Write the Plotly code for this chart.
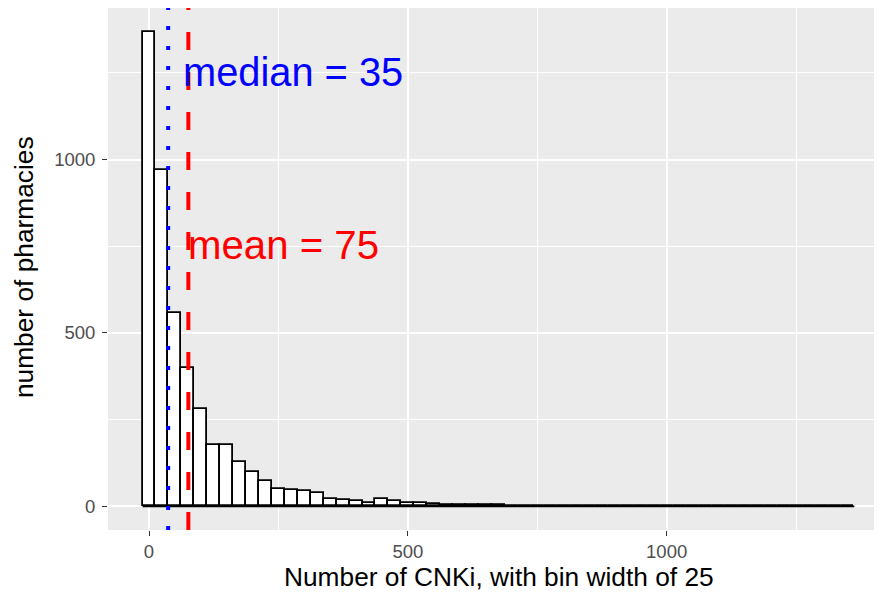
import plotly.graph_objects as go

# ---- data ----
bin_width = 25
bin_centers = [i * bin_width for i in range(55)]  # 0 .. 1350
counts = [1367, 971, 558, 400, 281, 178, 178, 129, 98, 74,
          49, 48, 44, 38, 21, 19, 14, 10, 20, 15,
          10, 9, 6, 5, 5, 4, 3, 3, 2, 2,
          1, 1, 1, 2, 1, 1, 2, 1, 1, 2,
          1, 1, 0, 1, 0, 1, 1, 0, 0, 1,
          0, 0, 1, 0, 1]
median_line = 37
mean_line = 76
median_label = "median = 35"
mean_label = "mean = 75"
x_ticks = [0, 500, 1000]
x_minor = [250, 750, 1250]
y_ticks = [0, 500, 1000]
y_minor = [250, 750, 1250]

FONT = "Liberation Sans, Arial, sans-serif"

fig = go.Figure()
fig.add_trace(go.Bar(
    x=bin_centers, y=counts, width=bin_width,
    marker=dict(color="white", line=dict(color="black", width=1.8)),
    hoverinfo="skip", showlegend=False,
))

# baseline outline for empty bins (ggplot draws zero-height rects)
fig.add_trace(go.Scatter(
    x=[bin_centers[0] - bin_width / 2, bin_centers[-1] + bin_width / 2],
    y=[0, 0], mode="lines", line=dict(color="black", width=1.8),
    hoverinfo="skip", showlegend=False,
))

fig.add_shape(type="line", xref="x", yref="paper", x0=median_line, x1=median_line,
              y0=0, y1=1, line=dict(color="blue", width=4, dash="4px,16px"))
fig.add_shape(type="line", xref="x", yref="paper", x0=mean_line, x1=mean_line,
              y0=0, y1=1, line=dict(color="red", width=4, dash="18px,22px"))

fig.add_annotation(x=62.5, y=1252, xref="x", yref="y", text=median_label,
                   showarrow=False, xanchor="left", yanchor="middle",
                   font=dict(family=FONT, size=39.8, color="blue"))
fig.add_annotation(x=72, y=751, xref="x", yref="y", text=mean_label,
                   showarrow=False, xanchor="left", yanchor="middle",
                   font=dict(family=FONT, size=40.2, color="red"))

# axis titles
fig.add_annotation(x=0.505, y=-0.090, xref="paper", yref="paper",
                   text="Number of CNKi, with bin width of 25", showarrow=False,
                   xanchor="center", yanchor="middle",
                   font=dict(family=FONT, size=26.3, color="black"))
fig.add_annotation(x=-0.1085, y=0.5038, xref="paper", yref="paper",
                   text="number of pharmacies", showarrow=False, textangle=-90,
                   xanchor="center", yanchor="middle",
                   font=dict(family=FONT, size=26.3, color="black"))

axis_common = dict(
    showgrid=True, gridcolor="white", gridwidth=1.7, zeroline=False,
    ticks="outside", ticklen=5, tickwidth=1.2, tickcolor="#333333",
    tickfont=dict(family=FONT, size=18.5, color="#4d4d4d"),
    showline=False, automargin=False,
)

# the page adds an 8px body margin, so the figure is offset by 8px right/down
fig.update_layout(
    width=882, height=592,
    margin=dict(l=100, r=8, t=0, b=70, autoexpand=False),
    paper_bgcolor="white", plot_bgcolor="#EBEBEB",
    bargap=0,
    xaxis=dict(range=[-79.2, 1416], tickvals=x_ticks,
               minor=dict(tickvals=x_minor, showgrid=True, gridcolor="white", gridwidth=0.8, ticks=""),
               **axis_common),
    yaxis=dict(range=[-68.4, 1437], tickvals=y_ticks, ticklabelstandoff=3,
               minor=dict(tickvals=y_minor, showgrid=True, gridcolor="white", gridwidth=0.8, ticks=""),
               **axis_common),
)

fig.write_html("out.html")
